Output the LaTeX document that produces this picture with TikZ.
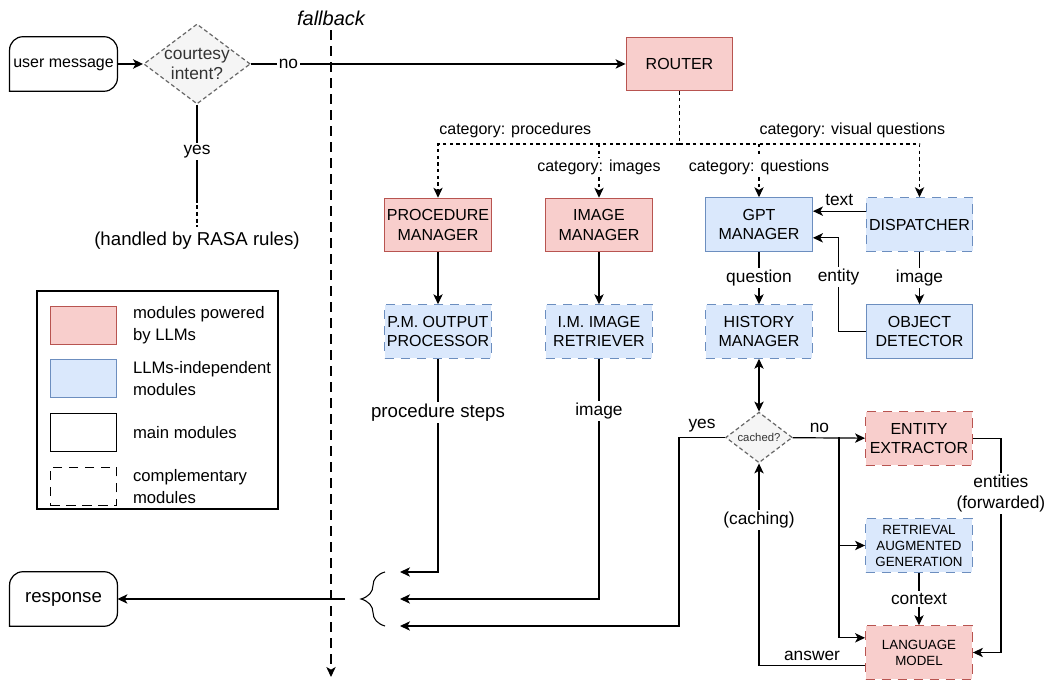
\documentclass[tikz,border=0pt]{standalone}
\usepackage{fontspec}
\setmainfont{Liberation Sans}
\usetikzlibrary{arrows.meta,shapes.geometric,decorations.pathreplacing}
\definecolor{llmfill}{HTML}{F8CECC}
\definecolor{llmline}{HTML}{B85450}
\definecolor{indfill}{HTML}{DAE8FC}
\definecolor{indline}{HTML}{6C8EBF}
\definecolor{askfill}{HTML}{F5F5F5}
\definecolor{askline}{HTML}{666666}
\definecolor{asktext}{HTML}{333333}
\begin{document}
\begin{tikzpicture}[x=0.75pt,y=-0.75pt,line width=0.9pt,
  font=\fontsize{12}{14.5}\selectfont,
  >={Stealth[length=7.5pt,width=7pt,inset=2pt]},
  module/.style={rectangle,draw,align=center,inner sep=1pt,
    minimum width=80pt,minimum height=40pt},
  llm/.style={module,fill=llmfill,draw=llmline},
  indep/.style={module,fill=indfill,draw=indline},
  compl/.style={dash pattern=on 7pt off 5pt},
  small/.style={font=\fontsize{10}{12}\selectfont},
  term/.style={inner sep=0pt,minimum width=80pt,minimum height=40pt,
    text height=0.75em,text depth=0.2em},
  ask/.style={diamond,draw=askline,fill=askfill,text=asktext,
    dash pattern=on 3pt off 2pt,align=center,shape aspect=1.3},
  cat/.style={->,dash pattern=on 2.5pt off 2.5pt},
  catlbl/.style={fill=white,inner sep=1.5pt},
  elbl/.style={font=\fontsize{13}{15.5}\selectfont},
  lbl/.style={elbl,fill=white,inner sep=1.5pt},
  big/.style={font=\fontsize{14}{16}\selectfont},
  swatch/.style={rectangle,draw,minimum width=50pt,minimum height=29pt},
  legtext/.style={anchor=west,align=left,font=\fontsize{12.5}{16.5}\selectfont}]
  \useasboundingbox (0,0) rectangle (1047,680);

  % entry and exit
  \node[term] (umsg) at (63.5,64) {user message};
  \draw[rounded corners=10pt,line cap=rect] (umsg.south west) -- (umsg.north west)
    -- (umsg.north east) -- (umsg.south east) -- (umsg.south west);
  \node[term,big] (resp) at (63.5,599) {response};
  \draw[rounded corners=10pt,line cap=rect] (resp.south west) -- (resp.north west)
    -- (resp.north east) -- (resp.south east) -- (resp.south west);
  \node[ask,inner sep=-4pt,minimum width=80pt,minimum height=60pt,
    font=\fontsize{13}{15}\selectfont] (courtesy) at (197,64) {courtesy\\intent?};
  \node[big] (rasa) at (197,241) {(handled by RASA rules)};
  \node[font=\fontsize{15}{17}\selectfont\itshape] (fb) at (331,18) {fallback};
  \coordinate (fbend) at (331,677);

  % modules
  \node[llm] (router) at (679.5,64) {ROUTER};
  \node[llm] (pm) at (438,225) {PROCEDURE\\MANAGER};
  \node[llm] (im) at (599,225) {IMAGE\\MANAGER};
  \node[indep] (gpt) at (759,224.5) {GPT\\MANAGER};
  \node[indep,compl] (disp) at (919.5,224.5) {DISPATCHER};
  \node[indep,compl] (pmop) at (438,331.5) {P.M. OUTPUT\\PROCESSOR};
  \node[indep,compl] (imir) at (599,331.5) {I.M. IMAGE\\RETRIEVER};
  \node[indep,compl] (hist) at (759,331.5) {HISTORY\\MANAGER};
  \node[indep] (objdet) at (919.5,331.5) {OBJECT\\DETECTOR};
  \node[ask,inner sep=0pt,minimum width=50pt,minimum height=38pt,
    font=\fontsize{8.5}{10}\selectfont] (cached) at (759,437.5) {cached?};
  \node[llm,compl] (entext) at (919,438.5) {ENTITY\\EXTRACTOR};
  \node[indep,compl,small] (rag) at (919,545.5) {RETRIEVAL\\AUGMENTED\\GENERATION};
  \node[llm,compl,small] (lm) at (919,652.5) {LANGUAGE\\MODEL};

  % courtesy check
  \draw[->,line width=1.5pt] (umsg) -- (courtesy);
  \draw[->] (courtesy) -- node[lbl,pos=0.1]{no} (router);
  \draw (courtesy.south) -- node[lbl]{yes} ++(0,94) coordinate (yesend);
  \draw[dash pattern=on 3pt off 2pt] (yesend) -- (rasa.north);
  \draw[->,compl] (fb.south) -- (fbend);

  % routing
  \coordinate (split) at (679.5,144);
  \draw[dash pattern=on 2.5pt off 2.5pt] (router.south) -- (split);
  \draw[cat] (split) -| node[pos=0.34,above=1pt]{category: procedures} (pm.north);
  \draw[cat] (split) -| node[pos=0.36,above=1pt]{category: visual questions} (disp.north);
  \draw[cat] (im |- split) -- node[catlbl,pos=0.43]{category: images} (im.north);
  \draw[cat] (gpt |- split) -- node[catlbl,pos=0.43]{category: questions} (gpt.north);

  % managers
  \draw[->] (pm) -- (pmop);
  \draw[->] (im) -- (imir);
  \draw[->] (gpt) -- node[lbl]{question} (hist);
  \draw[->] ([yshift=10pt]disp.west) -- node[elbl,above]{text} ([yshift=10pt]gpt.east);
  \draw[->] (disp) -- node[lbl]{image} (objdet);
  \draw[->] (objdet.west) -- ++(-27,0) |- node[lbl,pos=0.29]{entity} ([yshift=-10pt]gpt.east);
  \draw[<->] (hist) -- (cached);

  % cache and generation
  \coordinate (fork) at (839,437.5);
  \draw[->] (cached) -- node[elbl,above,pos=0.37]{no} (entext);
  \draw[->] (fork) |- (rag);
  \draw[->] (fork) |- ([yshift=11pt]lm.west);
  \draw[->] (rag) -- node[lbl]{context} (lm);
  \draw[->] (entext.east) -- ++(28,0) |- node[lbl,pos=0.128,align=center]{entities\\(forwarded)} (lm.east);
  \draw[->] ([yshift=-10pt]lm.west) -| node[elbl,above,pos=0.25]{answer}
    node[lbl,pos=0.86]{(caching)} (cached.south);

  % back to the user
  \coordinate (in1) at (400,572);
  \coordinate (in2) at (400,599);
  \coordinate (in3) at (400,626);
  \coordinate (brout) at (345,599);
  \draw[->] (pmop) |- node[lbl,big,pos=0.126]{procedure steps} (in1);
  \draw[->] (imir) |- node[lbl,pos=0.108]{image} (in2);
  \draw[->] (cached) -- node[elbl,above]{yes} (679,437.5) |- (in3);
  \draw[decorate,decoration={brace,amplitude=18pt},line width=0.8pt] (385,626) -- (385,572);
  \draw[->] (brout) -- (resp);

  % legend
  \draw (37,291) rectangle (278,509);
  \node[swatch,fill=llmfill,draw=llmline] (legllm) at (83.5,325.5) {};
  \node[swatch,fill=indfill,draw=indline] (legind) at (83.5,378.5) {};
  \node[swatch] (legmain) at (83.5,432.5) {};
  \node[swatch,compl] (legcompl) at (83.5,486.5) {};
  \node[legtext] at (128,325.5) {modules powered\\by LLMs};
  \node[legtext] at (128,378.5) {LLMs-independent\\modules};
  \node[legtext] at (128,432.5) {main modules};
  \node[legtext] at (128,486.5) {complementary\\modules};
\end{tikzpicture}
\end{document}
